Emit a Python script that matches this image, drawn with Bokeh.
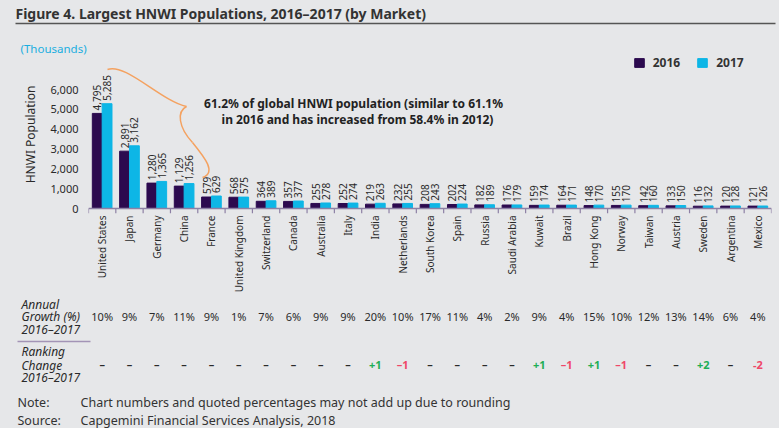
from math import pi
from bokeh.plotting import figure
from bokeh.layouts import column
from bokeh.models import (ColumnDataSource, FactorRange, Range1d, Label, LabelSet, Span,
                          Legend, LegendItem, FixedTicker, NumeralTickFormatter)
from bokeh.transform import dodge
from bokeh.core.properties import value
from bokeh.embed import file_html
from bokeh.resources import INLINE

# ---------------- data ----------------
markets = ["United States", "Japan", "Germany", "China", "France", "United Kingdom",
           "Switzerland", "Canada", "Australia", "Italy", "India", "Netherlands",
           "South Korea", "Spain", "Russia", "Saudi Arabia", "Kuwait", "Brazil",
           "Hong Kong", "Norway", "Taiwan", "Austria", "Sweden", "Argentina", "Mexico"]
hnwi_2016 = [4795, 2891, 1280, 1129, 579, 568, 364, 357, 255, 252, 219, 232, 208,
             202, 182, 176, 159, 164, 148, 155, 142, 133, 116, 120, 121]
hnwi_2017 = [5285, 3162, 1365, 1256, 629, 575, 389, 377, 278, 274, 263, 255, 243,
             224, 189, 179, 174, 171, 170, 170, 160, 150, 132, 128, 126]
growth = ["10%", "9%", "7%", "11%", "9%", "1%", "7%", "6%", "9%", "9%", "20%", "10%",
          "17%", "11%", "4%", "2%", "9%", "4%", "15%", "10%", "12%", "13%", "14%", "6%", "4%"]
rank_change = ["–", "–", "–", "–", "–", "–", "–", "–", "–", "–", "+1", "–1", "–", "–",
               "–", "–", "+1", "–1", "+1", "–1", "–", "–", "+2", "–", "-2"]
y_ticks = [0, 1000, 2000, 3000, 4000, 5000, 6000]

# ---------------- style ----------------
BG = "#e6e7e9"
PURPLE = "#2c0a4f"
CYAN = "#0db6e6"
TXT = "#2a2a2a"
ORANGE = "#f4a261"
GREEN = "#1fae55"
RED = "#ef4869"
FONT = "Noto Sans"
W = 779

# page geometry helpers (page pixels -> data coordinates of the bar chart)
FX0 = 88.0          # frame left in page px
CW = 683.0 / 25     # px per category
Y0PX = 208.0        # page px of y = 0
PXK = 1000 / 19.83  # data units per px
TOP_H = 55          # height of header strip
MAIN_BOTTOM = 296   # page px where the main figure ends


def X(px):
    return (px - FX0) / CW


def Y(py):
    return (Y0PX - py) * PXK


def bare(fig):
    fig.xgrid.visible = False
    fig.ygrid.visible = False
    return fig


COMMON = dict(output_backend="svg", toolbar_location=None, title=None, frame_align=False,
              background_fill_color=BG, border_fill_color=BG, outline_line_color=None)

# ---------------- header strip ----------------
top = bare(figure(width=W, height=TOP_H, x_range=Range1d(0, W), y_range=Range1d(TOP_H, 0),
                  x_axis_type=None, y_axis_type=None, min_border=0, **COMMON))
top.text(x=[15], y=[13], text=["Figure 4. Largest HNWI Populations, 2016–2017 (by Market)"],
         text_font=value(FONT), text_font_size="14px", text_font_style="bold",
         text_color="#333333", text_align="left", text_baseline="middle")
top.segment(x0=[15], y0=[23], x1=[775], y1=[23], line_color="#555555", line_width=1.5)
top.text(x=[20], y=[48], text=["(Thousands)"], text_font=value(FONT), text_font_size="11.5px",
         text_color="#1aaee0", text_align="left", text_baseline="middle")

# ---------------- main bar chart ----------------
src = ColumnDataSource(dict(
    market=markets, v2016=hnwi_2016, v2017=hnwi_2017,
    l2016=[f"{v:,}" for v in hnwi_2016], l2017=[f"{v:,}" for v in hnwi_2017],
))

main_h = MAIN_BOTTOM - TOP_H
p = bare(figure(x_range=FactorRange(factors=markets), y_range=Range1d(Y(213), Y(TOP_H)),
                width=W, height=main_h,
                min_border_left=88, min_border_right=W - 771, min_border_top=0,
                min_border_bottom=MAIN_BOTTOM - 213, **COMMON))

r16 = p.vbar(x=dodge("market", -0.18, range=p.x_range), top="v2016", width=0.36,
             source=src, fill_color=PURPLE, line_color=PURPLE)
r17 = p.vbar(x=dodge("market", 0.18, range=p.x_range), top="v2017", width=0.36,
             source=src, fill_color=CYAN, line_color=CYAN)

# axis baseline and boundary ticks
p.add_layout(Span(location=0, dimension="width", line_color="#8d80a5", line_width=1.3))
bounds = list(range(len(markets) + 1))
p.segment(x0=bounds, y0=0, x1=bounds, y1=Y(213), line_color="#8d80a5", line_width=1.2)

# value labels
for col, lab, off in (("v2016", "l2016", -0.18), ("v2017", "l2017", 0.18)):
    p.add_layout(LabelSet(x=dodge("market", off, range=p.x_range), y=col, text=lab, source=src,
                          angle=pi / 2, text_align="left", text_baseline="middle", y_offset=3,
                          text_font=value(FONT), text_font_size="10px", text_color=TXT))

xa = p.xaxis[0]
xa.axis_line_color = None
xa.major_tick_line_color = None
xa.minor_tick_line_color = None
xa.major_tick_out = 0
xa.major_tick_in = 0
xa.major_label_orientation = pi / 2
xa.major_label_standoff = 2
xa.major_label_text_font = FONT
xa.major_label_text_font_size = "10px"
xa.major_label_text_color = TXT

ya = p.yaxis[0]
ya.ticker = FixedTicker(ticks=y_ticks)
ya.formatter = NumeralTickFormatter(format="0,0")
ya.axis_line_color = None
ya.major_tick_line_color = None
ya.minor_tick_line_color = None
ya.major_tick_out = 0
ya.major_tick_in = 0
ya.major_label_standoff = 10
ya.major_label_text_font = FONT
ya.major_label_text_font_size = "11px"
ya.major_label_text_color = TXT
ya.axis_label = "HNWI Population"
ya.axis_label_standoff = 8
ya.axis_label_text_font = FONT
ya.axis_label_text_font_size = "12px"
ya.axis_label_text_font_style = "normal"
ya.axis_label_text_color = TXT

legend = Legend(items=[LegendItem(label="2016", renderers=[r16]),
                       LegendItem(label="2017", renderers=[r17])],
                orientation="horizontal", location=(544.7, 142.5),
                background_fill_alpha=0, border_line_alpha=0, padding=0, margin=0,
                spacing=16, label_standoff=8, glyph_width=12, glyph_height=11, label_height=11,
                label_text_font=FONT, label_text_font_size="12px", label_text_font_style="bold",
                label_text_color="#333333")
p.add_layout(legend)

# brace
p.bezier(x0=[X(107), X(186), X(192)], y0=[Y(69), Y(106), Y(142)],
         x1=[X(186), X(192), X(202)], y1=[Y(106), Y(142), Y(177)],
         cx0=[X(125), X(176), X(205)], cy0=[Y(62), Y(111), Y(158)],
         cx1=[X(160), X(178), X(216)], cy1=[Y(100), Y(127), Y(172)],
         line_color=ORANGE, line_width=1.5)

for txt, px, py in (("61.2% of global HNWI population (similar to 61.1%", 353, 103),
                    ("in 2016 and has increased from 58.4% in 2012)", 357, 119)):
    p.add_layout(Label(x=X(px), y=Y(py), text=txt, text_font=FONT, text_font_size="12px",
                       text_font_style="bold", text_color="#222222", text_align="center",
                       text_baseline="middle"))

# ---------------- table and notes ----------------
bot_h = 428 - MAIN_BOTTOM
bot = bare(figure(width=W, height=bot_h, x_range=Range1d(X(0), X(W)),
                  y_range=Range1d(428, MAIN_BOTTOM), x_axis_type=None, y_axis_type=None,
                  min_border=0, **COMMON))

centers = [i + 0.5 for i in range(len(markets))]
rank_colors = [GREEN if r.startswith("+") else (TXT if r == "–" else RED) for r in rank_change]
tsrc = ColumnDataSource(dict(x=centers, growth=growth, rank=rank_change, rc=rank_colors))

row_labels = ["Annual", "Growth (%)", "2016–2017", "Ranking", "Change", "2016–2017"]
row_y = [304, 316, 328.5, 351, 364.5, 377]
bot.text(x=[X(21)] * len(row_labels), y=row_y, text=row_labels, text_font=value(FONT),
         text_font_size="12px", text_font_style="italic", text_color=TXT,
         text_align="left", text_baseline="middle")
bot.segment(x0=[X(17)], y0=[341], x1=[X(90)], y1=[341], line_color="#a394b6", line_width=1.5)

bot.text(x="x", y=316, text="growth", source=tsrc, text_font=value(FONT),
         text_font_size="11px", text_color=TXT, text_align="center", text_baseline="middle")
bot.text(x="x", y=364, text="rank", source=tsrc, text_font=value(FONT),
         text_font_size="11px", text_font_style="bold", text_color="rc",
         text_align="center", text_baseline="middle")

notes = ["Note:", "Chart numbers and quoted percentages may not add up due to rounding",
         "Source:", "Capgemini Financial Services Analysis, 2018"]
bot.text(x=[X(17), X(80), X(17), X(80)], y=[401.7, 401.7, 420, 420], text=notes,
         text_font=value(FONT), text_font_size="12.5px", text_color="#333333",
         text_align="left", text_baseline="middle")

layout = column(top, p, bot, spacing=0)
html = file_html(layout, INLINE, title="Largest HNWI Populations")
html = html.replace("<head>", "<head><style>html,body{background:#e6e7e9;}</style>", 1)
open("out.html", "w").write(html)
